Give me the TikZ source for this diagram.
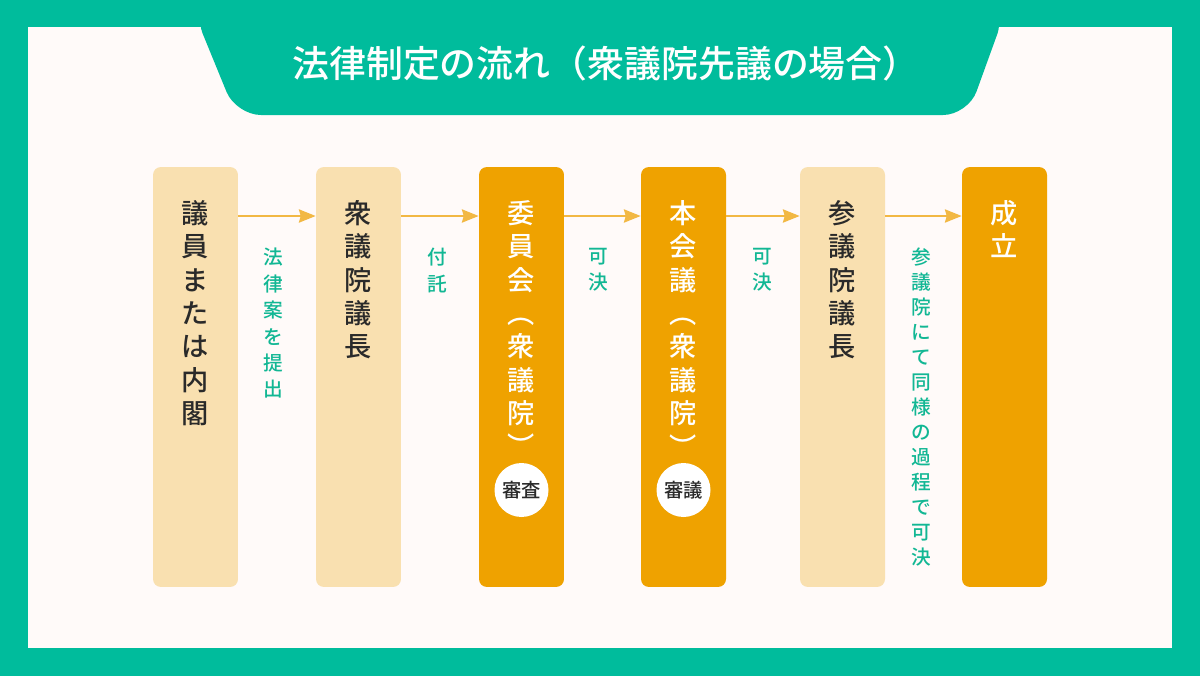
\documentclass[tikz,border=0pt]{standalone}
\usepackage{fontspec}
\setmainfont{Noto Sans CJK JP}[UprightFont={* Medium}, BoldFont={* Bold}]
\usepackage{xcolor}
\usetikzlibrary{arrows.meta}
\definecolor{framegreen}{HTML}{00BC9C}
\definecolor{panelwhite}{HTML}{FFFAF9}
\definecolor{boxlight}{HTML}{F9E0B0}
\definecolor{boxorange}{HTML}{EFA200}
\definecolor{arrowyellow}{HTML}{F2B844}
\definecolor{labelgreen}{HTML}{12B794}
\definecolor{textdark}{HTML}{2A2A2A}
\tikzset{x=0.02cm, y=-0.02cm,
 lbox/.style={fill=boxlight, rounded corners=4.5pt, minimum width=1.7cm,
  minimum height=8.4cm, inner sep=0pt},
 obox/.style={lbox, fill=boxorange},
 vtext/.style={anchor=north, align=center, inner sep=0pt,
  font=\fontsize{15.5}{19}\selectfont, text=textdark},
 wtext/.style={vtext, text=white},
 ltext/.style={anchor=north, align=center, inner sep=0pt,
  font=\fontsize{11.2}{15}\selectfont, text=labelgreen},
 badge/.style={circle, fill=white, minimum size=1.08cm, inner sep=0pt,
  font=\fontsize{11}{13}\selectfont, text=textdark},
 flow/.style={draw=arrowyellow, line width=1.2pt,
  -{Stealth[length=9.5pt,width=7.5pt,inset=1pt]}},
 }

\begin{document}
\begin{tikzpicture}
    \useasboundingbox (0,0) rectangle (1200,676);
    % frame and title tab
    \fill[framegreen] (0,0) rectangle (1200,676);
    \fill[panelwhite] (28,27) rectangle (1172,648);
    \fill[framegreen, rounded corners=0.5cm] (193,10) -- (236,115) -- (968,115) -- (1006,10) -- cycle;
    \node[font=\fontsize{21}{24}\selectfont, text=white] (title) at (606,63) {法律制定の流れ（衆議院先議の場合）};

    % boxes
    \node[lbox] (b1) at (195.5,377) {};
    \node[lbox] (b2) at (358.5,377) {};
    \node[obox] (b3) at (521.5,377) {};
    \node[obox] (b4) at (683.5,377) {};
    \node[lbox] (b5) at (842.5,377) {};
    \node[obox] (b6) at (1004.5,377) {};

    \node[vtext] (t1) at (195.5,200) {議\\員\\ま\\た\\は\\内\\閣};
    \node[vtext] (t2) at (358.5,200) {衆\\議\\院\\議\\長};
    \node[wtext] (t3) at (521.5,200) {委\\員\\会\\︵\\衆\\議\\院\\︶};
    \node[wtext] (t4) at (683.5,200) {本\\会\\議\\︵\\衆\\議\\院\\︶};
    \node[vtext] (t5) at (842.5,200) {参\\議\\院\\議\\長};
    \node[wtext] (t6) at (1004.5,200) {成\\立};

    \node[badge] (c3) at (521.5,490) {審査};
    \node[badge] (c4) at (683.5,490) {審議};

    % arrows
    \coordinate (ay) at (0,216);
    \draw[flow] (b1.east |- ay) -- (b2.west |- ay);
    \draw[flow] (b2.east |- ay) -- (b3.west |- ay);
    \draw[flow] (b3.east |- ay) -- (b4.west |- ay);
    \draw[flow] (b4.east |- ay) -- (b5.west |- ay);
    \draw[flow] (b5.east |- ay) -- (b6.west |- ay);

    % labels
    \node[ltext] (l1) at (273,248) {法\\律\\案\\を\\提\\出};
    \node[ltext] (l2) at (437,248) {付\\託};
    \node[ltext] (l3) at (598,248) {可\\決};
    \node[ltext] (l4) at (762,248) {可\\決};
    \node[ltext, font=\fontsize{11.2}{14.2}\selectfont] (l5) at (921,248) {参\\議\\院\\に\\て\\同\\様\\の\\過\\程\\で\\可\\決};
\end{tikzpicture}
\end{document}
